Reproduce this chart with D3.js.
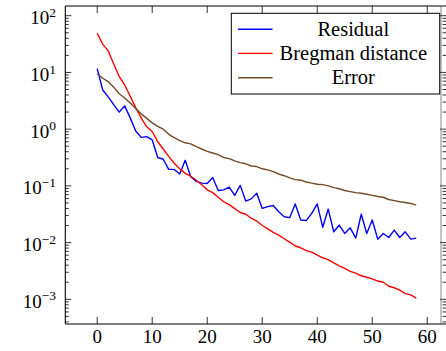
<!DOCTYPE html>
<html>
<head>
<meta charset="utf-8">
<script src="https://cdn.jsdelivr.net/npm/d3@7"></script>
<style>
body { margin: 0; background: #fff; }
</style>
</head>
<body>
<div id="chart"></div>
<script>
var width = 446
var height = 351

// iteration index
const iters = [0,1,2,3,4,5,6,7,8,9,10,11,12,13,14,15,16,17,18,19,20,21,22,23,24,25,26,27,28,29,
  30,31,32,33,34,35,36,37,38,39,40,41,42,43,44,45,46,47,48,49,50,51,52,53,54,55,56,57,58]

const residual = [11.7,4.9,3.7,2.7,2.0,2.57,1.58,0.93,0.716,0.74,0.645,0.316,0.295,0.195,0.195,0.162,
  0.282,0.145,0.12,0.112,0.11,0.141,0.083,0.085,0.095,0.068,0.102,0.054,0.059,0.074,0.04,0.043,0.045,
  0.035,0.0285,0.0275,0.048,0.025,0.0245,0.0327,0.048,0.0186,0.039,0.0155,0.0204,0.0145,0.0182,0.012,
  0.0316,0.0145,0.025,0.0115,0.0145,0.0123,0.0166,0.0123,0.0155,0.0115,0.012]

const bregman = [49,31.6,24,14.1,8.5,6.0,3.8,2.4,1.58,1.1,0.91,0.6,0.447,0.331,0.251,0.2,0.166,0.148,
  0.126,0.105,0.085,0.076,0.063,0.0525,0.0468,0.0398,0.0339,0.0316,0.0269,0.024,0.02,0.0174,0.0151,
  0.0135,0.0117,0.0102,0.0087,0.0081,0.0072,0.0068,0.006,0.0054,0.005,0.0044,0.0039,0.0035,0.0031,
  0.0029,0.0026,0.00245,0.0023,0.0021,0.002,0.0017,0.0016,0.00145,0.00126,0.0012,0.00105]

const error = [9.5,7.9,6.9,5.5,4.2,3.55,2.9,2.3,1.86,1.55,1.29,1.12,1.0,0.81,0.71,0.63,0.575,0.55,0.49,
  0.447,0.407,0.38,0.355,0.316,0.302,0.275,0.257,0.245,0.224,0.219,0.2,0.191,0.178,0.162,0.151,0.138,
  0.129,0.126,0.117,0.112,0.107,0.105,0.1,0.093,0.089,0.083,0.079,0.076,0.074,0.071,0.068,0.065,0.063,
  0.0575,0.055,0.0525,0.051,0.049,0.0457]

const seriesNames = ["Residual", "Bregman distance", "Error"]
const seriesColors = ["#0000ff", "#ff0000", "#704c28"]
const xTicks = [0, 10, 20, 30, 40, 50, 60]
const yTicks = [1e2, 1e1, 1e0, 1e-1, 1e-2, 1e-3]
const yTickExp = ["2", "1", "0", "\u22121", "\u22122", "\u22123"]

const serif = "Liberation Serif, Times New Roman, Times, Tinos, Noto Serif, DejaVu Serif, FreeSerif, serif"

const svg = d3.select("#chart").append("svg")
    .attr("width", width)
    .attr("height", height)
    .style("font-family", serif)

const plotLeft = 65.3, plotTop = 6, plotBottom = 324, plotRight = 441

const xScale = d3.scaleLinear()
    .domain([-5.8, 62.5])
    .range([plotLeft, plotRight])

const yScale = d3.scaleLog()
    .domain([Math.pow(10, -3.435), Math.pow(10, 2.171)])
    .range([plotBottom, plotTop])

// minor ticks on the log axis
const minorTicks = []
for (let k = -4; k <= 2; k++) {
    for (let m = 2; m <= 9; m++) {
        const v = m * Math.pow(10, k)
        if (v > yScale.domain()[0] && v < yScale.domain()[1]) minorTicks.push(v)
    }
}

const lineGen = d3.line()
    .x((d, i) => xScale(iters[i]))
    .y(d => yScale(d))

const allSeries = [residual, bregman, error]
allSeries.forEach((s, j) => {
    svg.append("path")
        .datum(s)
        .attr("d", lineGen)
        .attr("fill", "none")
        .attr("stroke", seriesColors[j])
        .attr("stroke-width", 1.4)
        .attr("stroke-linejoin", "round")
})

const ticksG = svg.append("g").attr("stroke", "#000").attr("stroke-width", 0.8)

// x ticks, bottom and top, pointing inward
xTicks.forEach(t => {
    const x = xScale(t)
    ticksG.append("line").attr("x1", x).attr("x2", x).attr("y1", plotBottom).attr("y2", plotBottom - 7)
    ticksG.append("line").attr("x1", x).attr("x2", x).attr("y1", plotTop).attr("y2", plotTop + 7)
})

// y ticks, left inward, right side like the picture
yTicks.forEach(t => {
    const y = yScale(t)
    ticksG.append("line").attr("x1", plotLeft).attr("x2", plotLeft + 6).attr("y1", y).attr("y2", y)
    ticksG.append("line").attr("x1", 446 - 6).attr("x2", 446).attr("y1", y).attr("y2", y)
})
minorTicks.forEach(t => {
    const y = yScale(t)
    ticksG.append("line").attr("x1", plotLeft).attr("x2", plotLeft + 3.5).attr("y1", y).attr("y2", y)
    ticksG.append("line").attr("x1", 446 - 3.5).attr("x2", 446).attr("y1", y).attr("y2", y)
})

// frame
svg.append("line").attr("x1", plotLeft).attr("x2", plotLeft).attr("y1", plotTop).attr("y2", plotBottom)
    .attr("stroke", "#000").attr("stroke-width", 1.1)
svg.append("line").attr("x1", plotLeft).attr("x2", 446).attr("y1", plotTop).attr("y2", plotTop)
    .attr("stroke", "#000").attr("stroke-width", 1.1)
svg.append("line").attr("x1", plotLeft).attr("x2", 446).attr("y1", plotBottom).attr("y2", plotBottom)
    .attr("stroke", "#000").attr("stroke-width", 1.1)
svg.append("line").attr("x1", plotRight).attr("x2", plotRight).attr("y1", plotTop).attr("y2", plotBottom)
    .attr("stroke", "#666").attr("stroke-width", 0.8)

// tick labels
svg.selectAll(".xlab").data(xTicks)
    .enter().append("text")
    .attr("class", "xlab")
    .attr("x", d => xScale(d))
    .attr("y", 343)
    .attr("text-anchor", "middle")
    .attr("font-size", 19)
    .text(d => d)

yTicks.forEach((t, i) => {
    const txt = svg.append("text")
        .attr("x", 56)
        .attr("y", yScale(t) + 8.6)
        .attr("text-anchor", "end")
        .attr("font-size", 19)
    txt.append("tspan").text("10")
    txt.append("tspan")
        .attr("font-size", 13.5)
        .attr("dy", -7.5)
        .text(yTickExp[i])
})

// legend
const legend = svg.append("g")
legend.append("rect")
    .attr("x", 231.3).attr("y", 13.3)
    .attr("width", 208.4).attr("height", 80.7)
    .attr("fill", "#fff").attr("stroke", "#000").attr("stroke-width", 1)

const legendBase = [35.5, 59.7, 84]
seriesNames.forEach((name, j) => {
    legend.append("line")
        .attr("x1", 238).attr("x2", 272.5)
        .attr("y1", legendBase[j] - 6.3).attr("y2", legendBase[j] - 6.3)
        .attr("stroke", seriesColors[j]).attr("stroke-width", 1.4)
    legend.append("text")
        .attr("x", 353.3)
        .attr("y", legendBase[j])
        .attr("text-anchor", "middle")
        .attr("font-size", 20.5)
        .text(name)
})
</script>
</body>
</html>
